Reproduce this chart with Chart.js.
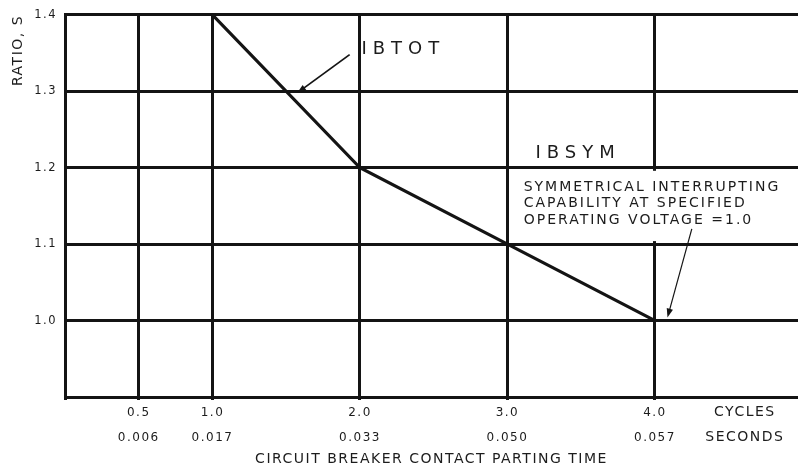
<!DOCTYPE html>
<html><head><meta charset="utf-8">
<script src="https://cdn.jsdelivr.net/npm/chart.js@4.4.1/dist/chart.umd.min.js"></script>
<style>html,body{margin:0;padding:0;background:#fff;}#wrap{position:relative;width:798px;height:471px;}</style>
</head><body><div id="wrap"><canvas id="c" width="798" height="471" style="width:798px;height:471px"></canvas></div>
<script>
// ---- data ----
const cycles = [1.0, 2.0, 3.0, 4.0];
const ratio = [1.4, 1.2, 1.1, 1.0];
const xTickValues = [0, 0.5, 1.0, 2.0, 3.0, 4.0, 4.61];
const xCycleLabels = ['', '0.5', '1.0', '2.0', '3.0', '4.0', 'CYCLES'];
const xSecondLabels = ['', '0.006', '0.017', '0.033', '0.050', '0.057', 'SECONDS'];
const yTickValues = [0.9, 1.0, 1.1, 1.2, 1.3, 1.4];
const yTickLabels = ['', '1.0', '1.1', '1.2', '1.3', '1.4'];
const curveNames = ['IBTOT', 'IBSYM'];
const noteLines = ['SYMMETRICAL INTERRUPTING', 'CAPABILITY AT SPECIFIED', 'OPERATING VOLTAGE =1.0'];

// ---- annotation placement (data coordinates) ----
const nameAnchors = [[2.01, 1.355], [3.19, 1.219]];
const noteAnchor = [3.11, 1.174];
const noteLineStep = 0.0212;
const noteBox = [3.05, 1.196, 4.97, 1.104];
const arrows = [
  {from: [1.93, 1.348], to: [1.575, 1.298], width: 1.8},
  {from: [4.25, 1.12], to: [4.085, 1.004], width: 1.2}
];

const INK = '#141414';
const TXT = '#1c1c1c';
const FONT = 'DejaVu Sans';

function idx(list, v){ return list.findIndex(t => Math.abs(t - v) < 1e-6); }

const spacingPlugin = {
  id: 'spacing',
  beforeLayout(chart){ chart.ctx.letterSpacing = '1.5px'; },
  beforeDraw(chart){ chart.ctx.letterSpacing = '1.5px'; }
};

function drawArrow(ctx, x1, y1, x2, y2, w){
  const a = Math.atan2(y2 - y1, x2 - x1);
  const L = 9, H = 3.2;
  ctx.lineWidth = w;
  ctx.beginPath(); ctx.moveTo(x1, y1); ctx.lineTo(x2 - Math.cos(a) * L * 0.8, y2 - Math.sin(a) * L * 0.8); ctx.stroke();
  ctx.beginPath();
  ctx.moveTo(x2, y2);
  ctx.lineTo(x2 - Math.cos(a) * L - Math.sin(a) * H, y2 - Math.sin(a) * L + Math.cos(a) * H);
  ctx.lineTo(x2 - Math.cos(a) * L + Math.sin(a) * H, y2 - Math.sin(a) * L - Math.cos(a) * H);
  ctx.closePath(); ctx.fill();
}

const notesPlugin = {
  id: 'notes',
  afterDatasetsDraw(chart){
    const {ctx, scales: {x, y}} = chart;
    ctx.save();
    ctx.fillStyle = '#fff';
    const bx1 = x.getPixelForValue(noteBox[0]), by1 = y.getPixelForValue(noteBox[1]);
    const bx2 = x.getPixelForValue(noteBox[2]), by2 = y.getPixelForValue(noteBox[3]);
    ctx.fillRect(bx1, by1, bx2 - bx1, by2 - by1);

    ctx.fillStyle = TXT; ctx.strokeStyle = INK;
    ctx.textAlign = 'left'; ctx.textBaseline = 'middle';
    ctx.font = '18px "' + FONT + '"';
    ctx.letterSpacing = '6px';
    curveNames.forEach((t, i) => {
      ctx.fillText(t, x.getPixelForValue(nameAnchors[i][0]), y.getPixelForValue(nameAnchors[i][1]));
    });
    ctx.font = '14px "' + FONT + '"';
    ctx.letterSpacing = '2px';
    noteLines.forEach((t, i) => {
      ctx.fillText(t, x.getPixelForValue(noteAnchor[0]), y.getPixelForValue(noteAnchor[1] - i * noteLineStep));
    });
    ctx.letterSpacing = '0px';
    ctx.fillStyle = INK;
    arrows.forEach(a => {
      drawArrow(ctx, x.getPixelForValue(a.from[0]), y.getPixelForValue(a.from[1]),
        x.getPixelForValue(a.to[0]), y.getPixelForValue(a.to[1]), a.width);
    });
    ctx.restore();
    ctx.letterSpacing = '1.5px';
  }
};

new Chart(document.getElementById('c'), {
  type: 'line',
  data: {
    datasets: [{
      label: 'IBTOT / IBSYM',
      data: cycles.map((c, i) => ({x: c, y: ratio[i]})),
      borderColor: INK, borderWidth: 3.2, pointRadius: 0, tension: 0, fill: false
    }]
  },
  options: {
    responsive: false, animation: false, devicePixelRatio: 1,
    layout: {padding: {top: 13, right: 0, left: 0, bottom: 0}},
    plugins: {legend: {display: false}, tooltip: {enabled: false}},
    scales: {
      x: {
        type: 'linear', min: 0, max: 4.97,
        afterBuildTicks: s => { s.ticks = xTickValues.map(v => ({value: v})); },
        afterFit: s => { s.height = 74; },
        grid: {
          color: c => (c.tick && c.tick.value > 4.5) ? 'rgba(0,0,0,0)' : INK,
          lineWidth: 3, drawTicks: true, tickLength: 3
        },
        border: {display: true, color: INK, width: 3},
        ticks: {
          autoSkip: false, maxRotation: 0, padding: 0, color: TXT,
          font: c => ({family: FONT, size: (c.tick && c.tick.value > 4.5) ? 14 : 12, lineHeight: '25px'}),
          callback: v => { const i = idx(xTickValues, v); return [xCycleLabels[i], xSecondLabels[i]]; }
        },
        title: {
          display: true, text: 'CIRCUIT BREAKER CONTACT PARTING TIME', color: TXT,
          padding: {top: 0, bottom: 3}, font: {family: FONT, size: 14, lineHeight: 1.2}
        }
      },
      y: {
        type: 'linear', min: 0.9, max: 1.4,
        afterBuildTicks: s => { s.ticks = yTickValues.map(v => ({value: v})); },
        afterFit: s => { s.width = 65; },
        grid: {color: INK, lineWidth: 3, drawTicks: false},
        border: {display: true, color: INK, width: 3},
        ticks: {
          padding: 8, color: TXT, font: {family: FONT, size: 11.5},
          callback: v => yTickLabels[idx(yTickValues, v)]
        },
        title: {
          display: true, text: 'RATIO, S', align: 'end', color: TXT,
          padding: {top: 10, bottom: 0}, font: {family: FONT, size: 14, lineHeight: 1.2}
        }
      }
    }
  },
  plugins: [spacingPlugin, notesPlugin]
});
</script>
</body></html>
